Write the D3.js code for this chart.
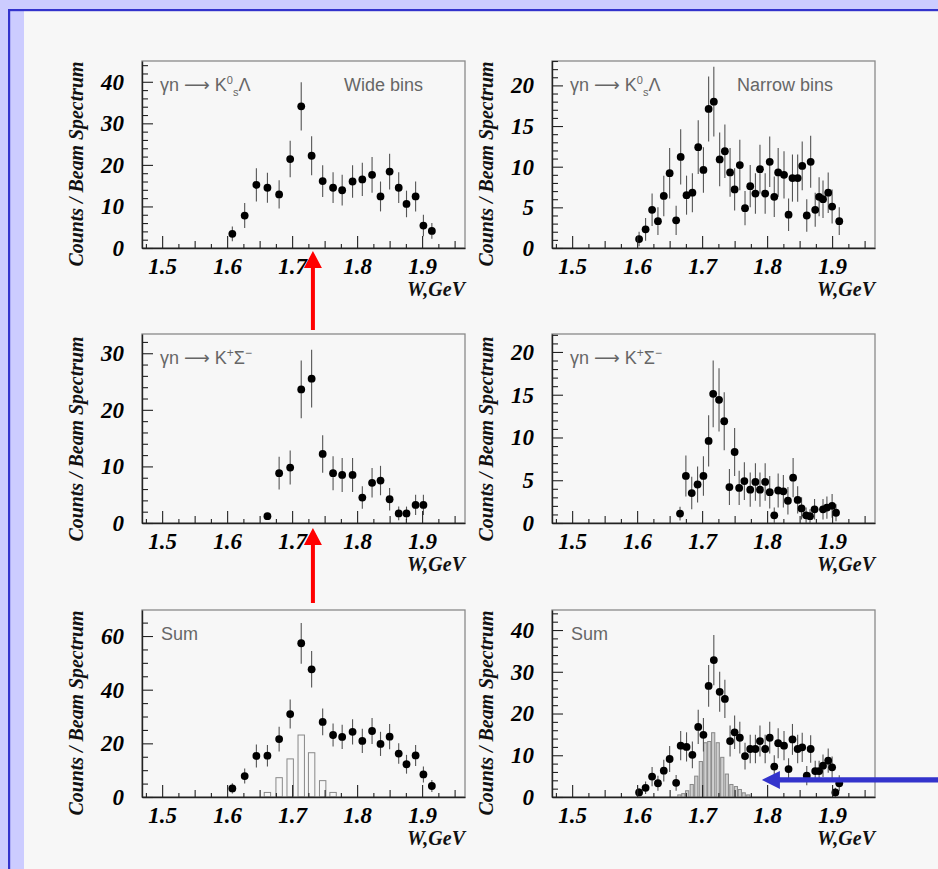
<!DOCTYPE html>
<html>
<head>
<meta charset="utf-8">
<script src="https://cdn.jsdelivr.net/npm/d3@7"></script>
<style>
  html, body { margin: 0; padding: 0; background: #ccccff; }
  svg { display: block; }
</style>
</head>
<body>
<svg id="chart" width="938" height="869"></svg>
<script>
// ---------- data: gamma n -> K0s Lambda, wide bins ----------
const wWide      = [1.608,1.627,1.645,1.662,1.680,1.697,1.714,1.730,1.747,1.763,1.777,1.793,1.808,1.823,1.836,1.850,1.864,1.876,1.890,1.902,1.915];
const k0LamWide  = [3.4,7.8,15.2,14.5,12.9,21.4,34.1,22.2,16.1,14.5,13.9,16.0,16.5,17.6,12.4,18.4,14.5,10.6,12.4,5.4,4.1];
const k0LamWideE = [1.8,3.0,4.0,3.6,3.4,4.4,5.8,4.7,3.8,3.7,3.7,3.9,4.0,4.3,3.6,4.3,3.7,3.2,3.6,2.6,1.9];

// ---------- gamma n -> K+ Sigma-, wide bins ----------
const wWideKS    = [1.662,1.680,1.697,1.714,1.730,1.747,1.763,1.777,1.793,1.808,1.823,1.836,1.850,1.864,1.876,1.890,1.902];
const kSigWide   = [1.2,8.8,9.8,23.6,25.5,12.2,8.8,8.5,8.5,4.5,7.1,7.5,4.2,1.7,1.7,3.2,3.2];
const kSigWideE  = [0.0,2.9,3.0,5.1,5.1,3.3,3.0,3.0,3.0,2.0,2.6,2.6,2.0,1.2,1.2,1.8,1.8];

// ---------- sum, wide bins ----------
const sumWide    = [3.2,7.8,15.3,15.4,21.6,30.9,57.3,47.6,28.0,23.1,22.4,24.3,20.9,24.6,19.8,22.5,16.2,12.2,15.5,8.4,4.1];
const sumWideE   = [1.9,2.8,4.3,4.0,4.6,5.4,7.6,6.8,5.0,4.3,4.5,4.7,4.5,4.8,4.5,4.7,3.8,3.5,3.9,3.0,2.2];
// simulated narrow-state histogram, wide bins
const histWideW  = [1.662,1.680,1.697,1.714,1.730,1.747,1.763];
const histWideV  = [1.7,7.2,14.2,23.1,16.5,6.1,1.7];

// ---------- gamma n -> K0s Lambda, narrow bins ----------
const wNarrow      = [1.603,1.613,1.623,1.632,1.641,1.650,1.660,1.667,1.676,1.685,1.694,1.702,1.710,1.718,1.727,1.735,1.743,1.750,1.758,1.766,1.774,1.782,1.789,1.797,1.804,1.811,1.817,1.826,1.833,1.839,1.847,1.854,1.861,1.867,1.874,1.880,1.886,1.894,1.900,1.911];
const k0LamNarrow  = [1.1,2.3,4.7,3.3,6.4,9.2,3.4,11.2,6.5,6.8,12.4,9.6,17.1,18.0,10.9,11.9,9.3,7.2,10.2,4.9,7.6,6.7,9.7,6.7,10.6,6.3,9.3,9.0,4.1,8.6,8.6,10.1,4.0,10.6,4.7,6.3,6.0,6.8,5.1,3.3];
const k0LamNarrowE = [0.9,1.4,2.0,1.7,2.5,3.1,1.8,3.4,2.4,2.4,3.3,2.8,4.0,4.3,3.3,3.3,3.0,2.6,3.1,2.1,2.6,2.5,3.0,2.5,3.1,2.5,3.0,2.9,2.0,2.9,2.9,3.0,2.0,3.2,2.1,2.4,2.3,2.5,2.1,1.7];

// ---------- gamma n -> K+ Sigma-, narrow bins ----------
const wNarrowKS    = [1.666,1.675,1.684,1.693,1.702,1.710,1.717,1.726,1.734,1.742,1.750,1.757,1.765,1.774,1.782,1.789,1.797,1.804,1.811,1.817,1.825,1.832,1.840,1.847,1.853,1.860,1.866,1.873,1.886,1.892,1.900,1.906];
const kSigNarrow   = [1.1,5.5,3.5,4.5,5.5,9.6,15.1,14.4,11.9,4.2,8.3,4.1,4.9,3.9,4.8,3.9,4.8,3.6,0.9,3.8,3.7,2.6,5.3,2.7,1.7,0.9,0.8,1.6,1.6,1.8,2.0,1.2];
const kSigNarrowE  = [0.8,2.4,1.9,2.1,2.3,3.0,3.9,3.7,3.4,2.1,2.8,2.0,2.2,2.0,2.2,2.0,2.2,1.9,0.9,2.0,1.9,1.6,2.3,1.6,1.3,0.9,0.8,1.2,1.2,1.3,1.4,1.0];

// ---------- sum, narrow bins ----------
const wNarrowSum   = [1.603,1.613,1.623,1.632,1.641,1.650,1.660,1.667,1.676,1.685,1.694,1.702,1.710,1.718,1.727,1.735,1.743,1.750,1.758,1.766,1.774,1.782,1.789,1.797,1.804,1.811,1.817,1.826,1.833,1.839,1.847,1.854,1.861,1.867,1.874,1.880,1.886,1.894,1.900,1.905,1.911];
const sumNarrow    = [1.1,2.2,4.9,3.3,6.3,9.1,3.4,12.3,12.0,10.1,16.8,14.9,26.6,32.8,25.2,23.5,13.4,15.5,14.2,9.8,11.5,11.5,13.4,11.5,14.2,7.3,12.9,12.3,6.7,13.8,11.5,11.9,5.1,11.5,6.2,6.2,7.5,8.7,7.1,1.1,3.3];
const sumNarrowE   = [1.0,1.5,2.3,1.8,2.6,3.1,1.9,3.5,3.5,3.2,4.1,4.0,5.0,6.0,4.8,4.6,3.7,4.0,3.8,3.2,3.4,3.4,3.7,3.4,3.8,2.7,3.6,3.5,2.6,3.7,3.4,3.5,2.3,3.3,2.5,2.5,2.7,2.9,2.6,1.1,1.9];
// simulated narrow-state histogram, narrow bins
const histNarrowW  = [1.665,1.671,1.677,1.684,1.691,1.698,1.705,1.711,1.717,1.724,1.731,1.738,1.745,1.752,1.758,1.764,1.771];
const histNarrowV  = [0.5,0.8,1.5,3.0,5.0,8.5,13.0,13.3,15.4,13.0,9.5,5.5,3.0,2.5,1.8,1.0,0.5];

// ---------- axis settings ----------
const wDomain   = [1.469, 1.966];
const xTickVals = [1.5, 1.6, 1.7, 1.8, 1.9];
const yLabel    = "Counts / Beam Spectrum";
const xLabel    = "W,GeV";
// resonance position marked by the arrows
const arrowW    = 1.732;
const pointerW  = 1.792, pointerV = 4.1;

// ---------- layout ----------
const svg = d3.select("#chart");
const W = 938, H = 869;
const colX = [[142, 465], [552, 875]];
const rowY = [[61, 248], [334, 523], [610, 797]];

// page background and frame
svg.append("rect").attr("width", W).attr("height", H).attr("fill", "#ccccff");
svg.append("rect").attr("x", 24).attr("y", 11).attr("width", W - 24).attr("height", H - 11).attr("fill", "#f7f7f7");
svg.append("rect").attr("x", 8).attr("y", 9).attr("width", W - 8).attr("height", 2.2).attr("fill", "#3333cc");
svg.append("rect").attr("x", 8).attr("y", 9).attr("width", 2.2).attr("height", H - 9).attr("fill", "#3333cc");

const serif = "'Liberation Serif','Times New Roman',serif";
const sans  = "'Liberation Sans',Arial,'DejaVu Sans',sans-serif";

const panels = [
  { col: 0, row: 0, yMax: 45,   major: [0,10,20,30,40],       minorStep: 2, w: wWide,      v: k0LamWide,   e: k0LamWideE,   title: "k0", note: "Wide bins" },
  { col: 1, row: 0, yMax: 23,   major: [0,5,10,15,20],        minorStep: 1, w: wNarrow,    v: k0LamNarrow, e: k0LamNarrowE, title: "k0", note: "Narrow bins" },
  { col: 0, row: 1, yMax: 33.4, major: [0,10,20,30],          minorStep: 2, w: wWideKS,    v: kSigWide,    e: kSigWideE,    title: "ks" },
  { col: 1, row: 1, yMax: 22.1, major: [0,5,10,15,20],        minorStep: 1, w: wNarrowKS,  v: kSigNarrow,  e: kSigNarrowE,  title: "ks" },
  { col: 0, row: 2, yMax: 69.7, major: [0,20,40,60],          minorStep: 5, w: wWide,      v: sumWide,     e: sumWideE,     title: "sum",
    hist: { w: histWideW, v: histWideV, half: 3.2, fill: "none" } },
  { col: 1, row: 2, yMax: 44.8, major: [0,10,20,30,40],       minorStep: 2, w: wNarrowSum, v: sumNarrow,   e: sumNarrowE,   title: "sum",
    hist: { w: histNarrowW, v: histNarrowV, half: 1.6, fill: "#cfcfcf" } }
];

let clipId = 0;
function drawPanel(p) {
  const [x0, x1] = colX[p.col];
  const [yt, yb] = rowY[p.row];
  const x = d3.scaleLinear().domain(wDomain).range([x0, x1]);
  const y = d3.scaleLinear().domain([0, p.yMax]).range([yb, yt]);
  const g = svg.append("g");

  const cid = "clip" + (clipId++);
  g.append("clipPath").attr("id", cid).append("rect")
    .attr("x", x0).attr("y", yt).attr("width", x1 - x0).attr("height", yb - yt);

  // frame
  g.append("rect").attr("x", x0).attr("y", yt).attr("width", x1 - x0).attr("height", yb - yt)
    .attr("fill", "none").attr("stroke", "#8a8a8a").attr("stroke-width", 1.3);

  const plot = g.append("g").attr("clip-path", `url(#${cid})`);

  // histogram of the expected narrow-state signal
  if (p.hist) {
    plot.selectAll("rect.h").data(p.hist.w).join("rect").attr("class", "h")
      .attr("x", d => x(d) - p.hist.half)
      .attr("width", p.hist.half * 2)
      .attr("y", (d, i) => y(p.hist.v[i]))
      .attr("height", (d, i) => y(0) - y(p.hist.v[i]))
      .attr("fill", p.hist.fill)
      .attr("stroke", "#888").attr("stroke-width", 1);
  }

  // error bars
  plot.selectAll("line.err").data(p.w).join("line").attr("class", "err")
    .attr("x1", d => x(d)).attr("x2", d => x(d))
    .attr("y1", (d, i) => y(Math.max(0, p.v[i] - p.e[i])))
    .attr("y2", (d, i) => y(p.v[i] + p.e[i]))
    .attr("stroke", "#555").attr("stroke-width", 1.1);

  // data points
  plot.selectAll("circle").data(p.w).join("circle")
    .attr("cx", d => x(d)).attr("cy", (d, i) => y(p.v[i]))
    .attr("r", 3.9).attr("fill", "#000");

  // x axis: small, medium and major ticks
  const xSmall = d3.range(1.475, 1.966, 0.025).filter(t => Math.abs(t * 20 - Math.round(t * 20)) > 1e-6);
  const xMid = d3.range(1.55, 1.96, 0.1);
  const axX = g.append("g").attr("transform", `translate(0,${yb})`);
  axX.append("g").call(d3.axisBottom(x).tickValues(xSmall).tickFormat("").tickSizeInner(-4).tickSizeOuter(0))
    .call(a => a.select(".domain").remove());
  axX.append("g").call(d3.axisBottom(x).tickValues(xMid).tickFormat("").tickSizeInner(-7).tickSizeOuter(0))
    .call(a => a.select(".domain").remove());
  axX.append("g").call(d3.axisBottom(x).tickValues(xTickVals).tickFormat(d3.format(".1f"))
      .tickSizeInner(-12).tickSizeOuter(0).tickPadding(10))
    .call(a => a.selectAll("text").attr("font-family", serif).attr("font-weight", "bold")
        .attr("font-style", "italic").attr("font-size", 23).attr("fill", "#000"));
  axX.selectAll("line").attr("stroke", "#222").attr("stroke-width", 1.1);
  axX.select(".domain").attr("stroke", "#222").attr("stroke-width", 1.4);

  // y axis: minor and major ticks
  const yMinor = d3.range(0, p.yMax + 1e-9, p.minorStep).filter(t => !p.major.includes(t));
  const axY = g.append("g").attr("transform", `translate(${x0},0)`);
  axY.append("g").call(d3.axisLeft(y).tickValues(yMinor).tickFormat("").tickSizeInner(-6).tickSizeOuter(0))
    .call(a => a.select(".domain").remove());
  axY.append("g").call(d3.axisLeft(y).tickValues(p.major).tickFormat(d3.format("d"))
      .tickSizeInner(-11).tickSizeOuter(0).tickPadding(18))
    .call(a => a.selectAll("text").attr("font-family", serif).attr("font-weight", "bold")
        .attr("font-style", "italic").attr("font-size", 23).attr("fill", "#000"));
  axY.selectAll("line").attr("stroke", "#222").attr("stroke-width", 1.1);
  axY.select(".domain").attr("stroke", "#222").attr("stroke-width", 1.4);

  // axis titles
  g.append("text")
    .attr("transform", `translate(${x0 - 66},${yb - 84}) rotate(-90)`)
    .attr("text-anchor", "middle").attr("dy", "0.35em")
    .attr("font-family", serif).attr("font-weight", "bold").attr("font-style", "italic")
    .attr("font-size", 20).attr("textLength", 205).attr("lengthAdjust", "spacingAndGlyphs")
    .attr("fill", "#111").text(yLabel);
  g.append("text")
    .attr("x", x1).attr("y", yb + 48).attr("text-anchor", "end")
    .attr("font-family", serif).attr("font-weight", "bold").attr("font-style", "italic")
    .attr("font-size", 20).attr("fill", "#111").text(xLabel);

  // reaction label
  const t = g.append("text").attr("x", x0 + 18).attr("y", yt + 30)
    .attr("font-family", sans).attr("font-size", 18).attr("fill", "#666");
  if (p.title === "k0") {
    t.append("tspan").text("γn ");
    t.append("tspan").attr("font-family", "'DejaVu Sans',sans-serif").text("⟶");
    t.append("tspan").text(" K");
    t.append("tspan").attr("font-size", 11).attr("dy", -7).text("0");
    t.append("tspan").attr("font-size", 11).attr("dx", 0).attr("dy", 12).text("s");
    t.append("tspan").attr("dy", -5).text("Λ");
  } else if (p.title === "ks") {
    t.append("tspan").text("γn ");
    t.append("tspan").attr("font-family", "'DejaVu Sans',sans-serif").text("⟶");
    t.append("tspan").text(" K");
    t.append("tspan").attr("font-size", 12).attr("dy", -7).text("+");
    t.append("tspan").attr("dy", 7).text("Σ");
    t.append("tspan").attr("font-size", 12).attr("dy", -7).text("−");
  } else {
    t.attr("x", x0 + 19).text("Sum");
  }
  if (p.note) {
    g.append("text").attr("x", x1 - 42).attr("y", yt + 30).attr("text-anchor", "end")
      .attr("font-family", sans).attr("font-size", 18).attr("fill", "#666").text(p.note);
  }
  return { x, y, x0, x1, yt, yb };
}

const frames = panels.map(drawPanel);

// red arrows pointing at the peak position
function upArrow(xc, tipY, tailY, color) {
  const headLen = 17, headHalf = 9, shaftHalf = 2;
  svg.append("path")
    .attr("d", `M${xc},${tipY} L${xc + headHalf},${tipY + headLen} L${xc + shaftHalf},${tipY + headLen}
                L${xc + shaftHalf},${tailY} L${xc - shaftHalf},${tailY} L${xc - shaftHalf},${tipY + headLen}
                L${xc - headHalf},${tipY + headLen} Z`)
    .attr("fill", color);
}
const fTop = frames[0], fMid = frames[2];
upArrow(fTop.x(arrowW), fTop.yb + 3, 330, "#ff0000");
upArrow(fMid.x(arrowW), fMid.yb + 5, 603, "#ff0000");

// blue arrow pointing at the simulated signal histogram
const fSum = frames[5];
const tipX = fSum.x(pointerW), tipY = fSum.y(pointerV);
const bHeadLen = 18, bHeadHalf = 9, bShaftHalf = 2.6;
svg.append("path")
  .attr("d", `M${tipX},${tipY} L${tipX + bHeadLen},${tipY - bHeadHalf} L${tipX + bHeadLen},${tipY - bShaftHalf}
              L${W},${tipY - bShaftHalf} L${W},${tipY + bShaftHalf} L${tipX + bHeadLen},${tipY + bShaftHalf}
              L${tipX + bHeadLen},${tipY + bHeadHalf} Z`)
  .attr("fill", "#3333cc");
</script>
</body>
</html>
